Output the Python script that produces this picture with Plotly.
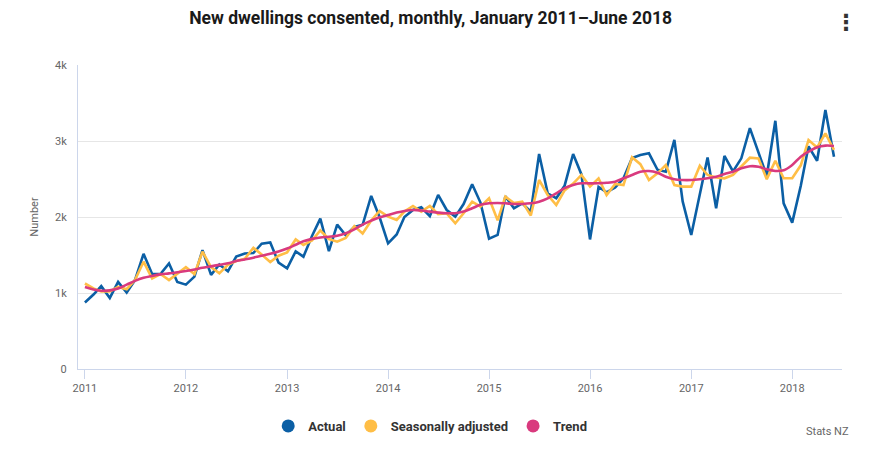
import pandas as pd
import plotly.graph_objects as go

months = pd.date_range("2011-01-01", "2018-06-01", freq="MS")

actual = [
    875, 980, 1090, 935, 1145, 1005, 1170, 1515, 1250, 1250, 1390, 1145,
    1110, 1215, 1565, 1238, 1375, 1285, 1480, 1520, 1525, 1650, 1665, 1400,
    1325, 1548, 1478, 1750, 1978, 1550, 1900, 1760, 1870, 1898, 2277, 2000,
    1654, 1770, 2000, 2092, 2128, 2010, 2290, 2092, 2005, 2170, 2430, 2190,
    1715, 1764, 2272, 2114, 2180, 2070, 2829, 2312, 2246, 2410, 2829, 2560,
    1705, 2395, 2325, 2390, 2509, 2776, 2816, 2838, 2622, 2595, 3014, 2205,
    1763, 2280, 2784, 2114, 2803, 2600, 2772, 3170, 2845, 2540, 3266, 2180,
    1926, 2410, 2930, 2740, 3408, 2794,
]

seasonally_adjusted = [
    1125, 1060, 1020, 1020, 1080, 1050, 1170, 1412, 1190, 1250, 1170, 1250,
    1340, 1250, 1544, 1340, 1259, 1370, 1420, 1450, 1595, 1505, 1408, 1490,
    1535, 1705, 1632, 1690, 1822, 1710, 1676, 1725, 1880, 1782, 1955, 2080,
    2005, 1961, 2071, 2145, 2071, 2145, 2036, 2049, 1917, 2050, 2202, 2136,
    2246, 1956, 2268, 2185, 2202, 2020, 2487, 2290, 2158, 2350, 2440, 2553,
    2400, 2509, 2290, 2435, 2420, 2786, 2695, 2487, 2575, 2685, 2421, 2400,
    2400, 2675, 2553, 2520, 2509, 2553, 2660, 2780, 2770, 2498, 2740, 2510,
    2510, 2680, 3014, 2915, 3101, 2882,
]

trend = [
    1078, 1045, 1030, 1035, 1060, 1110, 1160, 1200, 1225, 1245, 1258, 1272,
    1290, 1310, 1332, 1350, 1370, 1392, 1420, 1442, 1465, 1490, 1515, 1545,
    1585, 1635, 1680, 1712, 1730, 1740, 1752, 1786, 1838, 1900, 1952, 1996,
    2027, 2058, 2080, 2092, 2085, 2071, 2058, 2049, 2049, 2071, 2115, 2160,
    2180, 2185, 2180, 2172, 2172, 2180, 2202, 2246, 2312, 2380, 2421, 2443,
    2443, 2445, 2450, 2465, 2509, 2553, 2596, 2605, 2582, 2530, 2496, 2487,
    2487, 2496, 2509, 2531, 2566, 2597, 2641, 2668, 2662, 2627, 2606, 2615,
    2685, 2794, 2860, 2917, 2939, 2935,
]

series_names = ["Actual", "Seasonally adjusted", "Trend"]
series_colors = ["#0B5FA5", "#FFBE46", "#D93A7E"]
y_ticks = [0, 1000, 2000, 3000, 4000]
y_tick_labels = ["0", "1k", "2k", "3k", "4k"]

FONT = "Roboto"

fig = go.Figure()
for name, vals, col in zip(series_names, [actual, seasonally_adjusted, trend], series_colors):
    fig.add_trace(go.Scatter(
        x=months, y=vals, mode="lines", name=name,
        line=dict(color=col, width=2.6, shape="spline" if name == "Trend" else "linear",
                  smoothing=1.0),
        showlegend=False, hoverinfo="x+y+name",
    ))
# legend entries with circle symbols
for name, col in zip(series_names, series_colors):
    fig.add_trace(go.Scatter(
        x=[None], y=[None], mode="markers", name=name,
        marker=dict(color=col, size=13, symbol="circle"),
        showlegend=True,
    ))

fig.update_layout(
    width=875, height=453,
    margin=dict(l=70, r=41, t=57, b=92),
    paper_bgcolor="white", plot_bgcolor="white",
    font=dict(family=FONT, color="#666666", size=11),
    title=dict(
        text="New dwellings consented, monthly, January 2011–June 2018",
        x=0.483, xanchor="center", y=0.978, yanchor="middle",
        font=dict(family=FONT, size=17.5, color="#1a1a1a", weight="bold"),
    ),
    legend=dict(
        orientation="h", x=0.461, xanchor="center", y=-0.1875, yanchor="middle",
        font=dict(family=FONT, size=13, color="#333333", weight="bold"),
        itemwidth=30, traceorder="normal",
    ),
    xaxis=dict(
        type="date",
        range=["2010-12-07", "2018-06-30"],
        dtick="M12", tick0="2011-01-01", tickformat="%Y",
        showgrid=False, showline=True, linecolor="#ccd6eb", linewidth=1,
        ticks="outside", ticklen=9, tickcolor="#ccd6eb", tickwidth=1,
        tickfont=dict(family=FONT, size=11, color="#666666"),
        zeroline=False,
    ),
    yaxis=dict(
        range=[0, 4000],
        tickvals=y_ticks, ticktext=y_tick_labels,
        showgrid=True, gridcolor="#e6e6e6", gridwidth=1,
        showline=True, linecolor="#ccd6eb", linewidth=1,
        zeroline=False, ticks="", ticklabelstandoff=8,
        tickfont=dict(family=FONT, size=11, color="#666666"),
        title=dict(text="Number", font=dict(family=FONT, size=11, color="#666666"), standoff=14),
    ),
    annotations=[
        dict(text="Stats NZ", xref="paper", yref="paper", x=1.012, y=-0.204,
             xanchor="right", yanchor="middle", showarrow=False,
             font=dict(family=FONT, size=11, color="#666666")),
        dict(text="⋮", xref="paper", yref="paper", x=1.005, y=1.141,
             xanchor="center", yanchor="middle", showarrow=False,
             font=dict(family="DejaVu Sans", size=22, color="#333333", weight="bold")),
    ],
)

fig.write_html("out.html")
